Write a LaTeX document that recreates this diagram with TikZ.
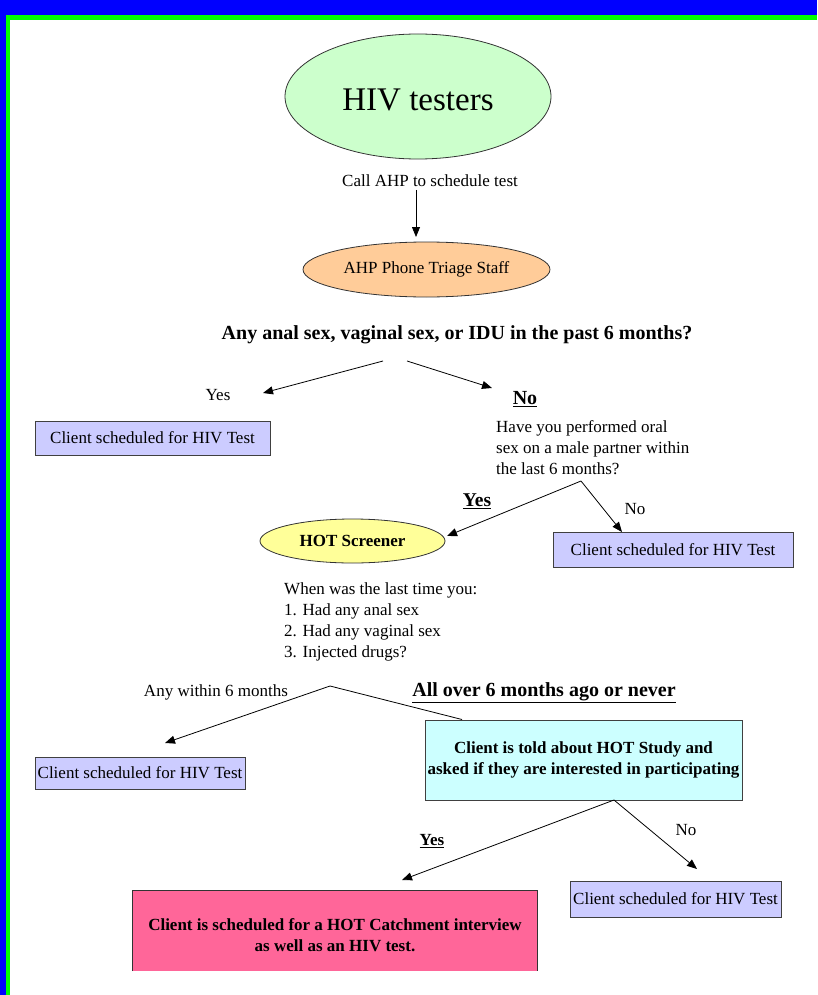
\documentclass[tikz,border=0pt]{standalone}
\usepackage{fontspec}
\setmainfont{Liberation Serif}
\usetikzlibrary{shapes.geometric,arrows.meta}
\definecolor{bgblue}{HTML}{0000FF}
\definecolor{bggreen}{HTML}{00FF00}
\definecolor{elgreen}{HTML}{CCFFCC}
\definecolor{elpeach}{HTML}{FFCC99}
\definecolor{elyellow}{HTML}{FFFF99}
\definecolor{boxlav}{HTML}{CCCCFF}
\definecolor{boxcyan}{HTML}{CCFFFF}
\definecolor{boxpink}{HTML}{FF6699}
\tikzset{
  txt/.style={inner sep=0pt, font=\fontsize{17}{21}\selectfont},
  btxt/.style={inner sep=0pt, font=\fontsize{17}{21}\selectfont\bfseries},
  bigb/.style={inner sep=0pt, font=\fontsize{20}{24}\selectfont\bfseries},
  oval/.style={ellipse, draw=black!80, line width=0.8pt, inner sep=0pt},
  testbox/.style={rectangle, draw=black!75, line width=1pt, fill=boxlav, inner sep=0pt,
     font=\fontsize{17}{21}\selectfont},
  arr/.style={-{Triangle[length=10pt,width=8pt]}, line width=0.8pt},
  ln/.style={line width=0.8pt}
}
\begin{document}
\begin{tikzpicture}[x=1pt,y=-1pt]
\useasboundingbox (0,0) rectangle (817,995);
\fill[bgblue] (0,0) rectangle (817,995);
\fill[bggreen] (6,15) rectangle (817,995);
\fill[white] (10,20) rectangle (817,995);

% top
\node[oval, fill=elgreen, minimum width=266pt, minimum height=125pt] (hiv) at (418,96.5) {};
\node[inner sep=0pt, font=\fontsize{33}{36}\selectfont] (hivtxt) at (418,99.5) {HIV testers};
\node[txt] (call) at (430,181) {Call AHP to schedule test};
\coordinate (c1) at (416,190);
\coordinate (c1e) at (416,237);
\draw[arr] (c1) -- (c1e);

\node[oval, fill=elpeach, minimum width=247pt, minimum height=55pt,
      font=\fontsize{17}{21}\selectfont] (ahp) at (426.5,269.5) {AHP Phone Triage Staff};

\node[bigb] (q1) at (457,335) {Any anal sex, vaginal sex, or IDU in the past 6 months?};
\coordinate (q1l) at (383,361);
\coordinate (q1r) at (407,361);
\coordinate (q1le) at (263,393);
\coordinate (q1re) at (492,388);
\draw[arr] (q1l) -- (q1le);
\draw[arr] (q1r) -- (q1re);

\node[txt] (yes1) at (218,395) {Yes};
\node[bigb] (no1) at (525,399) {\underline{No}};

\node[testbox, minimum width=235pt, minimum height=34pt] (t1) at (152.5,438) {Client scheduled for HIV Test};

\node[txt, align=left, anchor=north west] (q2) at (496,420)
  {Have you performed oral\\sex on a male partner within\\the last 6 months?};
\coordinate (q2b) at (581,481);
\coordinate (q2r) at (622,532);
\draw[arr] (q2b) -- (447,536) coordinate (q2le);
\draw[arr] (q2b) -- (q2r);

\node[inner sep=0pt, font=\fontsize{19.5}{22}\selectfont\bfseries] (yes2) at (477,501) {\underline{Yes}};
\node[txt] (no2) at (635,509) {No};

\node[testbox, minimum width=240pt, minimum height=35pt] (t2) at (673,549.5) {Client scheduled for HIV Test};

\node[oval, fill=elyellow, minimum width=185pt, minimum height=44pt,
      font=\fontsize{17}{21}\selectfont\bfseries] (hot) at (352.5,541) {HOT Screener};

\node[txt, align=left, anchor=north west] (q3) at (284,582)
  {When was the last time you:\\1. Had any anal sex\\2. Had any vaginal sex\\3. Injected drugs?};

\node[txt] (any) at (216,692) {Any within 6 months};
\node[bigb] (allover) at (544,693) {\underline{All over 6 months ago or never}};

\node[testbox, minimum width=210pt, minimum height=32pt] (t3) at (140,773) {Client scheduled for HIV Test};

\node[rectangle, draw=black!75, line width=1pt, fill=boxcyan, minimum width=317pt, minimum height=80pt,
      inner sep=0pt, align=center, font=\fontsize{17}{21}\selectfont\bfseries] (told) at (583.5,760)
  {Client is told about HOT Study and\\asked if they are interested in participating};

\coordinate (q3b) at (330,686);
\coordinate (q3le) at (165,743);
\draw[arr] (q3b) -- (q3le);
\draw[ln] (q3b) -- (told.north west -| 462,720);

\coordinate (tb) at (614,800);
\coordinate (tble) at (402,880);
\coordinate (tbre) at (697,869);
\draw[arr] (tb) -- (tble);
\draw[arr] (tb) -- (tbre);

\node[btxt] (yes3) at (432,841) {\underline{Yes}};
\node[txt] (no3) at (686,830) {No};

\node[testbox, minimum width=211pt, minimum height=36pt] (t4) at (675.5,899) {Client scheduled for HIV Test};

\node[rectangle, fill=boxpink, minimum width=404pt, minimum height=80pt, inner sep=0pt] (pink) at (335,931) {};
\draw[black!80, line width=1pt] (pink.south west) -- (pink.north west) -- (pink.north east) -- (pink.south east);
\node[btxt, align=center] (pinktxt) at (335,935)
  {Client is scheduled for a HOT Catchment interview\\as well as an HIV test.};
\end{tikzpicture}
\end{document}
